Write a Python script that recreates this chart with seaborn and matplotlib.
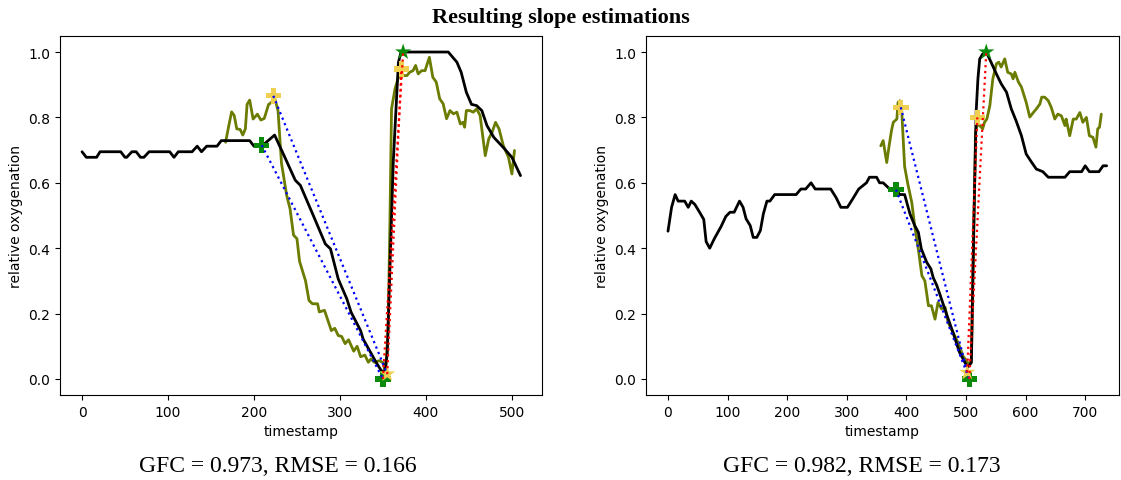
import numpy as np
import pandas as pd
import matplotlib
matplotlib.use("Agg")
import matplotlib.pyplot as plt
import seaborn as sns

# ---------------- data ----------------
# Left panel
left_black_t = [0, 5, 17, 21, 45, 50, 52, 58, 63, 68, 72, 78, 102, 107, 112, 128, 134, 139, 145, 157,
                162, 195, 200, 209, 224, 234, 248, 254, 269, 283, 289, 298, 308, 313, 324, 327, 342, 348,
                352, 355, 362, 368, 371, 426, 436, 441, 447, 453, 459, 465, 471, 479, 490, 500, 510]
left_black_v = [0.695, 0.678, 0.678, 0.695, 0.695, 0.678, 0.678, 0.695, 0.695, 0.678, 0.678, 0.695, 0.695,
                0.678, 0.695, 0.695, 0.712, 0.695, 0.712, 0.712, 0.729, 0.729, 0.712, 0.712, 0.746, 0.689,
                0.608, 0.592, 0.50, 0.413, 0.398, 0.306, 0.245, 0.204, 0.148, 0.122, 0.051, 0.026, 0.02,
                0.076, 0.663, 0.968, 1.0, 1.0, 0.969, 0.938, 0.877, 0.84, 0.836, 0.821, 0.775, 0.739,
                0.708, 0.678, 0.622]

left_olive_t = [167, 170, 174, 177, 180, 184, 187, 190, 192, 195, 199, 204, 208, 212, 217, 220, 224, 228,
                232, 238, 242, 246, 250, 253, 260, 264, 268, 274, 276, 282, 290, 294, 298, 302, 306, 310,
                316, 320, 324, 329, 333, 336, 340, 346, 350, 353, 356, 358, 360, 364, 368, 374, 378, 381,
                385, 388, 391, 395, 399, 404, 408, 412, 416, 420, 424, 428, 432, 436, 440, 443, 445, 447,
                451, 455, 459, 463, 469, 473, 477, 481, 485, 490, 496, 500, 503]
left_olive_v = [0.724, 0.765, 0.817, 0.806, 0.765, 0.763, 0.746, 0.765, 0.84, 0.853, 0.795, 0.81, 0.792,
                0.797, 0.84, 0.845, 0.86, 0.82, 0.66, 0.562, 0.52, 0.44, 0.429, 0.36, 0.30, 0.24, 0.23,
                0.23, 0.205, 0.21, 0.148, 0.155, 0.133, 0.13, 0.108, 0.12, 0.085, 0.1, 0.068, 0.073,
                0.051, 0.061, 0.051, 0.056, 0.05, 0.02, 0.15, 0.46, 0.826, 0.887, 0.923, 0.928, 0.928,
                0.938, 0.943, 0.959, 0.933, 0.943, 0.943, 0.984, 0.923, 0.908, 0.857, 0.842, 0.796,
                0.821, 0.811, 0.816, 0.78, 0.785, 0.77, 0.821, 0.821, 0.816, 0.826, 0.806, 0.683, 0.734,
                0.755, 0.785, 0.765, 0.714, 0.678, 0.627, 0.699]

left_green_p_t = [209, 350]
left_green_p_v = [0.715, 0.0]
left_green_star_t = [373.5]
left_green_star_v = [1.0]
left_yellow_p_t = [222.5, 371.5]
left_yellow_p_v = [0.866, 0.948]
left_yellow_star_t = [355]
left_yellow_star_v = [0.015]

# Right panel
right_black_t = [0, 6, 12, 17, 28, 34, 39, 45, 53, 60, 64, 70, 78, 89, 97, 104, 111, 120, 126, 131, 138,
                 143, 149, 155, 160, 166, 171, 179, 215, 223, 231, 240, 247, 273, 282, 290, 301, 310, 320,
                 333, 338, 350, 355, 361, 372, 382, 389, 397, 406, 414, 420, 425, 434, 441, 445, 451, 456,
                 467, 478, 489, 498, 503, 509, 513, 517, 520, 523, 528, 534, 542, 551, 559, 568, 576, 584,
                 593, 601, 610, 618, 629, 638, 666, 674, 694, 700, 707, 723, 730, 736]
right_black_v = [0.452, 0.525, 0.564, 0.544, 0.544, 0.525, 0.544, 0.534, 0.51, 0.488, 0.42, 0.40, 0.43,
                 0.466, 0.497, 0.51, 0.51, 0.544, 0.525, 0.49, 0.469, 0.433, 0.433, 0.454, 0.505, 0.544,
                 0.544, 0.564, 0.564, 0.581, 0.581, 0.6, 0.581, 0.581, 0.555, 0.525, 0.525, 0.551, 0.581,
                 0.6, 0.617, 0.617, 0.6, 0.6, 0.581, 0.579, 0.564, 0.564, 0.505, 0.469, 0.449, 0.398,
                 0.357, 0.337, 0.31, 0.286, 0.26, 0.2, 0.143, 0.082, 0.051, 0.036, 0.05, 0.459, 0.816,
                 0.918, 0.979, 0.994, 1.0, 0.969, 0.933, 0.903, 0.877, 0.826, 0.79, 0.744, 0.688, 0.663,
                 0.642, 0.634, 0.617, 0.617, 0.634, 0.634, 0.652, 0.634, 0.634, 0.652, 0.652]

right_olive_t = [357, 361, 367, 371, 375, 378, 384, 386, 389, 392, 397, 402, 409, 414, 420, 426, 431, 437,
                 442, 448, 453, 459, 465, 470, 478, 487, 495, 503, 506, 509, 512, 516, 520, 523, 528, 531,
                 535, 540, 545, 551, 555, 559, 565, 570, 576, 579, 582, 588, 593, 601, 607, 613, 618, 624,
                 627, 632, 638, 643, 649, 654, 660, 666, 668, 674, 680, 685, 691, 696, 702, 707, 713, 718,
                 721, 724, 727]
right_olive_v = [0.713, 0.729, 0.662, 0.713, 0.76, 0.785, 0.795, 0.846, 0.851, 0.826, 0.65, 0.60, 0.54,
                 0.468, 0.397, 0.316, 0.30, 0.224, 0.224, 0.183, 0.234, 0.214, 0.219, 0.173, 0.143, 0.11,
                 0.07, 0.05, 0.045, 0.06, 0.357, 0.755, 0.785, 0.775, 0.765, 0.785, 0.795, 0.836, 0.918,
                 0.964, 0.969, 0.954, 0.979, 0.938, 0.933, 0.918, 0.938, 0.908, 0.893, 0.846, 0.801,
                 0.815, 0.826, 0.841, 0.862, 0.862, 0.851, 0.831, 0.795, 0.81, 0.805, 0.775, 0.795, 0.744,
                 0.795, 0.795, 0.815, 0.785, 0.8, 0.744, 0.739, 0.709, 0.765, 0.77, 0.81]

right_green_p_t = [382.5, 505.5]
right_green_p_v = [0.579, 0.0]
right_green_star_t = [534]
right_green_star_v = [1.0]
right_yellow_p_t = [390.5, 519]
right_yellow_p_v = [0.831, 0.80]
right_yellow_star_t = [502]
right_yellow_star_v = [0.02]

x_ticks_left = [0, 100, 200, 300, 400, 500]
x_ticks_right = [0, 100, 200, 300, 400, 500, 600, 700]
y_ticks = [0.0, 0.2, 0.4, 0.6, 0.8, 1.0]

title = "Resulting slope estimations"
captions = ["GFC = 0.973, RMSE = 0.166", "GFC = 0.982, RMSE = 0.173"]

# ---------------- style ----------------
sns.set_theme(style="ticks", rc={
    "axes.edgecolor": "black", "xtick.color": "black", "ytick.color": "black",
    "axes.labelcolor": "black", "text.color": "black",
    "xtick.labelsize": 10, "ytick.labelsize": 10, "axes.labelsize": 10,
    "axes.linewidth": 0.8, "xtick.major.width": 0.8, "ytick.major.width": 0.8,
    "xtick.major.size": 3.5, "ytick.major.size": 3.5,
})
plt.rcParams["font.family"] = ["DejaVu Sans"]

BLACK = "black"
OLIVE = "#6b7c00"
GREEN = "#0a8a0a"
YELLOW = "#f0d050"

W, H = 1121, 481
fig = plt.figure(figsize=(W / 100, H / 100), dpi=100)
ax1 = fig.add_axes([60 / W, 1 - 396 / H, 482 / W, 359 / H])
ax2 = fig.add_axes([646 / W, 1 - 396 / H, 473 / W, 359 / H])


def draw(ax, bt, bv, ot, ov, gpt, gpv, gst, gsv, ypt, ypv, yst, ysv):
    sns.lineplot(x=bt, y=bv, ax=ax, color=BLACK, lw=2, estimator=None, sort=False, zorder=3)
    sns.lineplot(x=ot, y=ov, ax=ax, color=OLIVE, lw=2, estimator=None, sort=False, zorder=2)
    sns.scatterplot(x=gpt, y=gpv, ax=ax, marker="P", color=GREEN, s=125, edgecolor="none", zorder=4)
    sns.scatterplot(x=gst, y=gsv, ax=ax, marker="*", color=GREEN, s=150, edgecolor="none", zorder=4)
    sns.scatterplot(x=ypt, y=ypv, ax=ax, marker="P", color=YELLOW, s=125, edgecolor="none", zorder=4)
    sns.scatterplot(x=yst, y=ysv, ax=ax, marker="*", color=YELLOW, s=150, edgecolor="none", zorder=4)
    # slope lines
    sns.lineplot(x=[gpt[0], gpt[1]], y=[gpv[0], gpv[1]], ax=ax, color="blue", lw=1.6,
                 linestyle=":", estimator=None, sort=False, zorder=5)
    sns.lineplot(x=[ypt[0], yst[0]], y=[ypv[0], ysv[0]], ax=ax, color="blue", lw=1.6,
                 linestyle=":", estimator=None, sort=False, zorder=5)
    sns.lineplot(x=[gpt[1], gst[0]], y=[gpv[1], gsv[0]], ax=ax, color="red", lw=1.6,
                 linestyle=":", estimator=None, sort=False, zorder=5)
    sns.lineplot(x=[yst[0], ypt[1]], y=[ysv[0], ypv[1]], ax=ax, color="red", lw=1.6,
                 linestyle=":", estimator=None, sort=False, zorder=5)
    ax.set_ylim(-0.049, 1.049)
    ax.set_yticks(y_ticks)
    ax.set_xlabel("timestamp")
    ax.set_ylabel("relative oxygenation")


draw(ax1, left_black_t, left_black_v, left_olive_t, left_olive_v,
     left_green_p_t, left_green_p_v, left_green_star_t, left_green_star_v,
     left_yellow_p_t, left_yellow_p_v, left_yellow_star_t, left_yellow_star_v)
ax1.set_xlim(-25.6, 535)
ax1.set_xticks(x_ticks_left)

draw(ax2, right_black_t, right_black_v, right_olive_t, right_olive_v,
     right_green_p_t, right_green_p_v, right_green_star_t, right_green_star_v,
     right_yellow_p_t, right_yellow_p_v, right_yellow_star_t, right_yellow_star_v)
ax2.set_xlim(-36.9, 756.7)
ax2.set_xticks(x_ticks_right)

fig.text(0.5, 1 - 18 / H, title, ha="center", va="center", fontsize=16,
         fontweight="bold", family=["Liberation Serif"])
fig.text(278 / W, 1 - 467 / H, captions[0], ha="center", va="center", fontsize=17,
         family=["Liberation Serif"])
fig.text(862 / W, 1 - 467 / H, captions[1], ha="center", va="center", fontsize=17,
         family=["Liberation Serif"])

fig.savefig("out.png", dpi=100)
